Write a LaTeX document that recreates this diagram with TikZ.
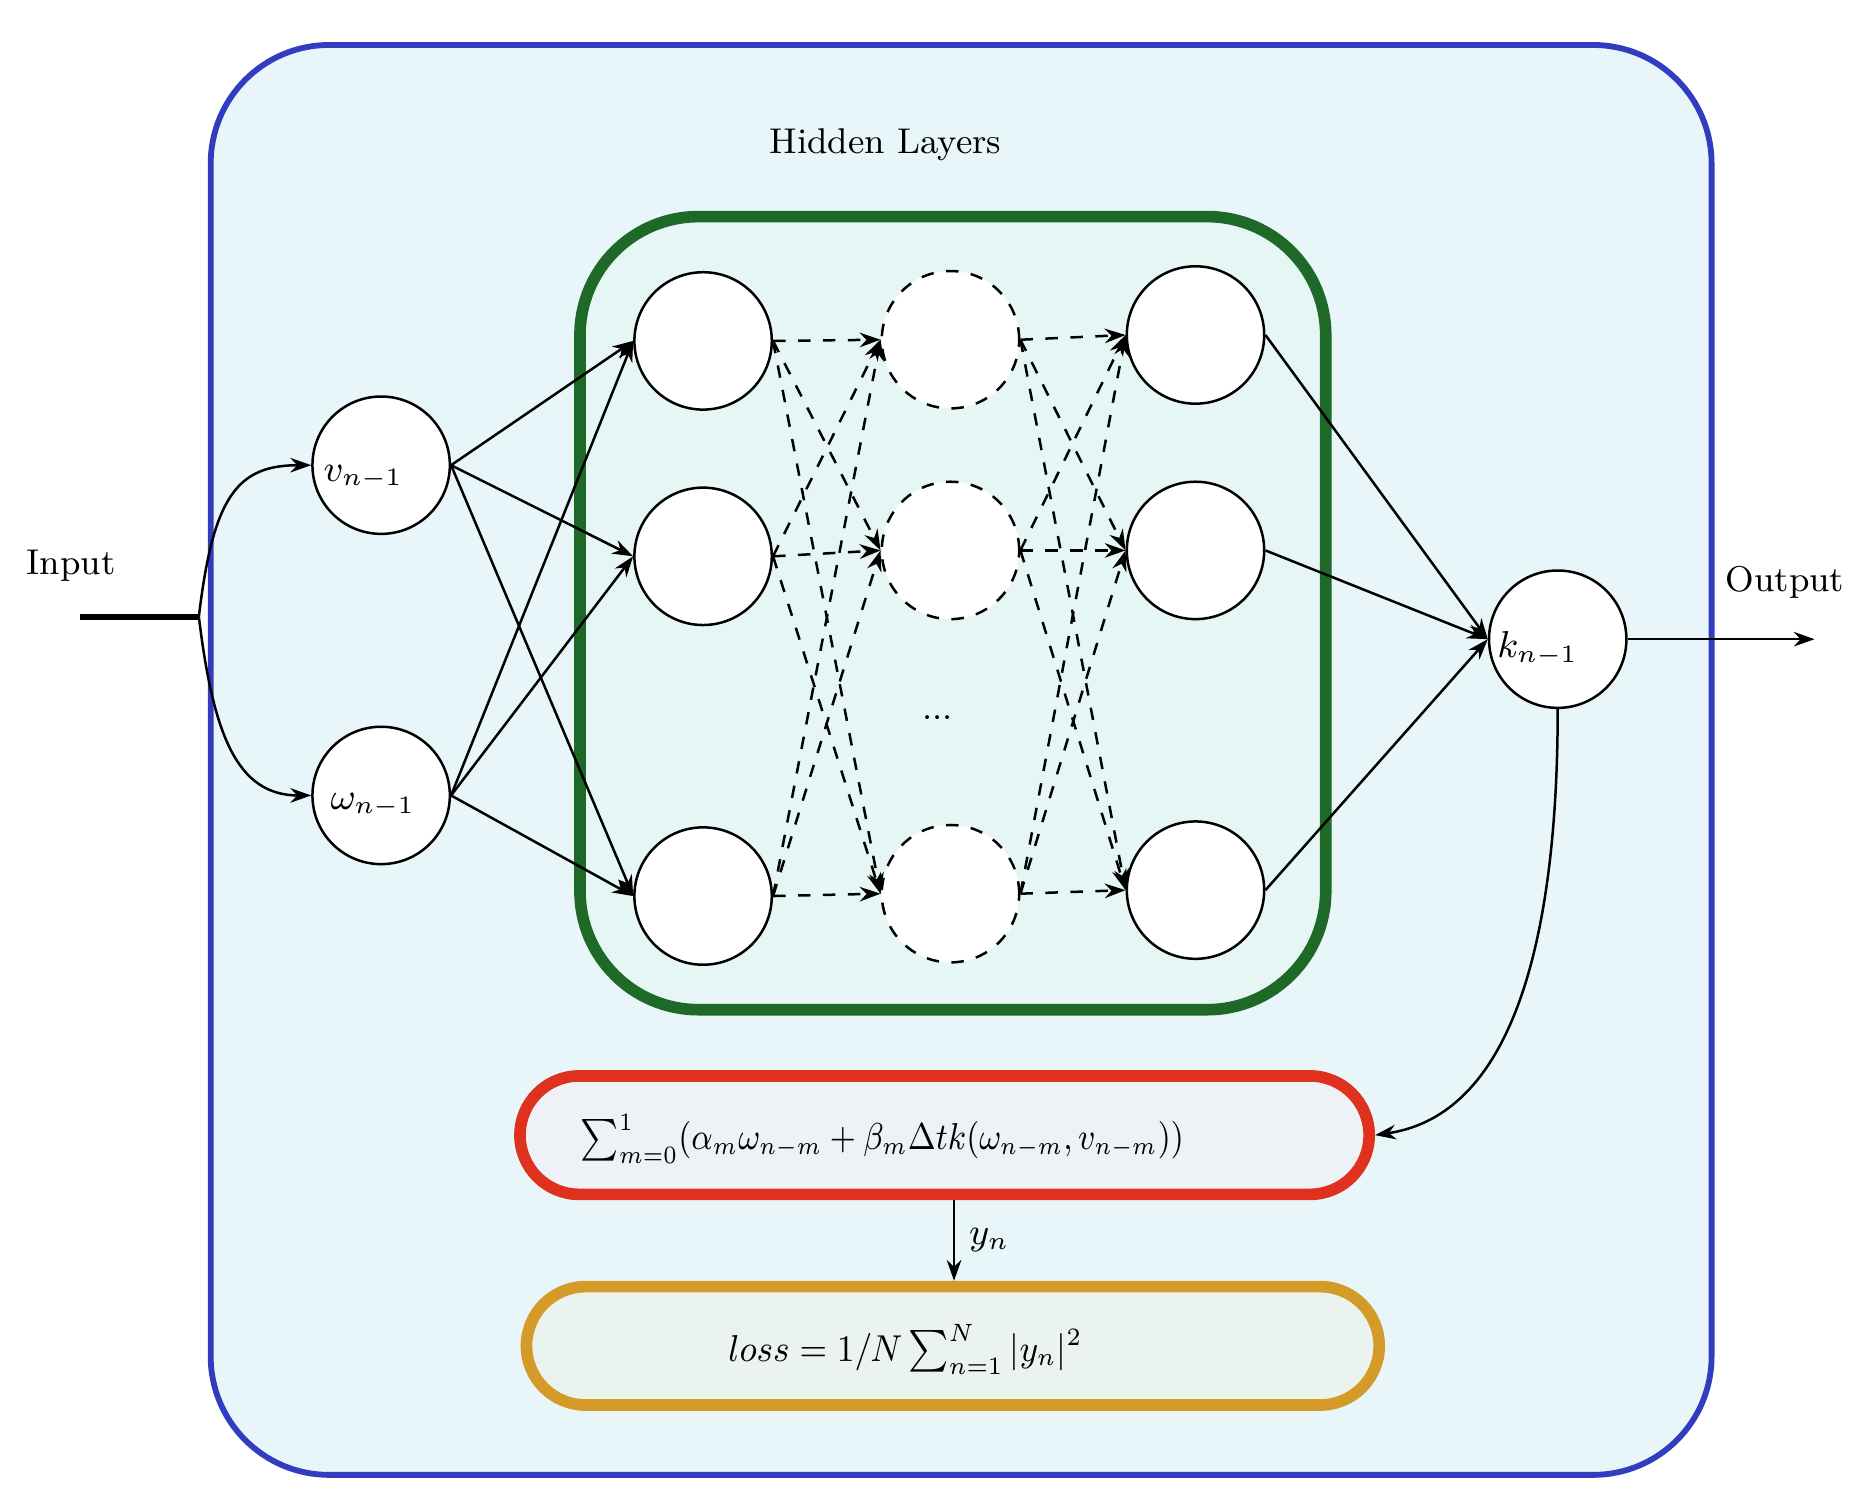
\documentclass[tikz,border=0pt]{standalone}
\usetikzlibrary{arrows.meta}
\definecolor{bluebd}{RGB}{50,60,190}
\definecolor{bluefill}{RGB}{232,246,250}
\definecolor{greenbd}{RGB}{30,105,40}
\definecolor{greenfill}{RGB}{230,246,244}
\definecolor{redbd}{RGB}{222,50,30}
\definecolor{redfill}{RGB}{238,242,246}
\definecolor{orgbd}{RGB}{212,155,40}
\definecolor{orgfill}{RGB}{234,243,238}
\begin{document}
\begin{tikzpicture}[x=0.01cm,y=-0.01cm,
  every node/.style={font=\fontsize{8.6}{10}\selectfont},
  neuron/.style={circle,draw,line width=0.6pt,fill=white,minimum size=1.16cm,inner sep=0pt},
  dneuron/.style={neuron,dashed},
  conn/.style={line width=0.6pt,-{Stealth[length=5pt,width=3.5pt]}},
  dconn/.style={conn,dashed}]
\useasboundingbox (0,0) rectangle (1568,1275);
\draw[bluebd,line width=1.4pt,fill=bluefill,rounded corners=1cm] (178,38) rectangle (1446,1246);
\node (hl) at (748,122) {Hidden Layers};
\draw[greenbd,line width=2.8pt,fill=greenfill,rounded corners=1cm] (490,183) rectangle (1120,853);
\node[neuron] (v) at (322,393) {};
\node[neuron] (w) at (322,672) {};
\node (vl) at (307,403) {$v_{n-1}$};
\node (wl) at (315,680) {$\omega_{n-1}$};
\node[neuron] (a1) at (594,288) {};
\node[neuron] (a2) at (594,470) {};
\node[neuron] (a3) at (594,757) {};
\node[dneuron] (b1) at (803,287) {};
\node[dneuron] (b2) at (803,465) {};
\node[dneuron] (b3) at (803,755) {};
\node[neuron] (c1) at (1010,283) {};
\node[neuron] (c2) at (1010,465) {};
\node[neuron] (c3) at (1010,752) {};
\node[neuron] (k) at (1316,540) {};
\node (kl) at (1299,548) {$k_{n-1}$};
\node (dots) at (792,606) {...};
\foreach \s in {v,w} \foreach \t in {a1,a2,a3} \draw[conn] (\s.east) -- (\t.west);
\foreach \s in {a1,a2,a3} \foreach \t in {b1,b2,b3} \draw[dconn] (\s.east) -- (\t.west);
\foreach \s in {b1,b2,b3} \foreach \t in {c1,c2,c3} \draw[dconn] (\s.east) -- (\t.west);
\foreach \s in {c1,c2,c3} \draw[conn] (\s.east) -- (k.west);
\node (in) at (60,478) {Input};
\coordinate (i0) at (68,521);
\coordinate (i1) at (168,521);
\draw[line width=1.4pt] (i0) -- (i1);
\draw[conn] (i1) .. controls (180,420) and (200,393) .. (v.west);
\draw[conn] (i1) .. controls (180,620) and (200,672) .. (w.west);
\node (out) at (1508,492) {Output};
\coordinate (oe) at (1533,540);
\draw[conn] (k) -- (oe);
\node[draw=redbd,line width=2.8pt,fill=redfill,rounded corners=0.5cm,minimum width=7.17cm,minimum height=1.0cm] (red) at (798,959) {};
\node[anchor=west,xscale=0.87] (f1) at (480,962) {$\sum_{m=0}^{1}(\alpha_m\omega_{n-m}+\beta_m\Delta t k(\omega_{n-m},v_{n-m}))$};
\node[draw=orgbd,line width=2.8pt,fill=orgfill,rounded corners=0.5cm,minimum width=7.2cm,minimum height=1.0cm] (org) at (805,1137) {};
\node[xscale=0.92] (f2) at (765,1140) {$loss=1/N\sum_{n=1}^{N}|y_n|^2$};
\draw[conn] (k.south) .. controls (1316,760) and (1290,940) .. (red.east);
\draw[conn] (red.south -| 806,0) -- node[right,pos=0.5] {$y_n$} (org.north -| 806,0);
\end{tikzpicture}
\end{document}
